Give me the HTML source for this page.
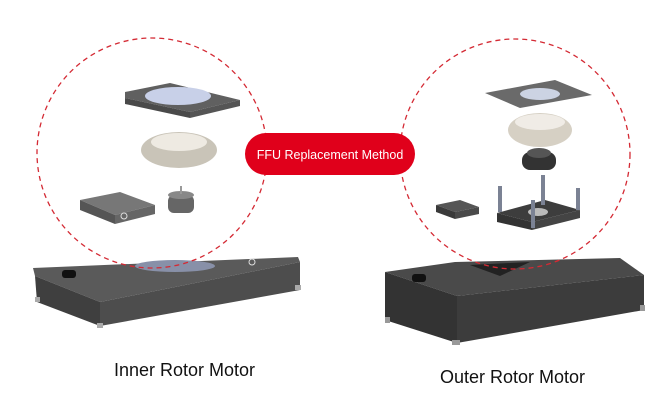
<!DOCTYPE html>
<html><head><meta charset="utf-8"><style>
html,body{margin:0;padding:0;background:#fff;}
body{width:665px;height:400px;overflow:hidden;position:relative;font-family:"Liberation Sans",sans-serif;}
.lbl{position:absolute;font-size:18px;color:#111;white-space:nowrap;}
</style></head><body>
<svg width="665" height="400" style="position:absolute;left:0;top:0">
<!-- left box -->
<polygon points="33,268 298,257 300,262 100,302 35,276" fill="#5a5a5a"/>
<polygon points="35,276 100,302 100,326 37,302" fill="#3f3f3f"/>
<polygon points="100,302 300,262 300,290 100,326" fill="#4d4d4d"/>
<ellipse cx="175" cy="266" rx="40" ry="6" fill="#8890a8"/>
<rect x="62" y="270" width="14" height="8" rx="3" fill="#111"/>
<circle cx="252" cy="262" r="3" fill="none" stroke="#ddd"/>
<rect x="35" y="297" width="5" height="5" fill="#aaa"/><rect x="97" y="323" width="6" height="5" fill="#aaa"/><rect x="295" y="285" width="6" height="5" fill="#aaa"/>
<!-- right box -->
<polygon points="385,272 455,262 620,258 644,275 457,296" fill="#4a4a4a"/>
<polygon points="470,265 530,262 500,276" fill="#222"/>
<polygon points="385,272 457,296 457,343 385,320" fill="#333"/>
<polygon points="457,296 644,275 644,310 457,343" fill="#3c3c3c"/>
<rect x="412" y="274" width="14" height="8" rx="3" fill="#111"/>
<rect x="385" y="317" width="5" height="6" fill="#999"/><rect x="452" y="340" width="8" height="5" fill="#999"/><rect x="640" y="305" width="5" height="6" fill="#999"/>
<!-- left components -->
<polygon points="125,92 170,83 240,100 190,112 125,98" fill="#606060"/>
<polygon points="125,98 190,112 190,118 125,104" fill="#4a4a4a"/>
<polygon points="190,112 240,100 240,106 190,118" fill="#555"/>
<ellipse cx="178" cy="96" rx="33" ry="9" fill="#c8d0e8"/>
<ellipse cx="179" cy="150" rx="38" ry="18" fill="#c9c4b8"/>
<ellipse cx="179" cy="142" rx="28" ry="9" fill="#eeeae2"/>
<polygon points="80,200 120,192 155,205 115,215" fill="#777"/>
<polygon points="80,200 115,215 115,224 80,210" fill="#555"/>
<polygon points="115,215 155,205 155,214 115,224" fill="#666"/>
<circle cx="124" cy="216" r="3" fill="none" stroke="#ddd"/>
<rect x="168" y="195" width="26" height="18" rx="6" fill="#666"/>
<ellipse cx="181" cy="195" rx="13" ry="4" fill="#888"/>
<rect x="180" y="186" width="2" height="8" fill="#999"/>
<!-- right components -->
<polygon points="485,93 555,80 592,95 520,108" fill="#6a6a6a"/>
<ellipse cx="540" cy="94" rx="20" ry="6" fill="#ccd3e3"/>
<ellipse cx="540" cy="130" rx="32" ry="17" fill="#d6d0c4"/>
<ellipse cx="540" cy="122" rx="25" ry="8" fill="#f0ece6"/>
<rect x="522" y="152" width="34" height="18" rx="8" fill="#333"/>
<ellipse cx="539" cy="153" rx="12" ry="5" fill="#555"/>
<polygon points="497,213 545,200 580,210 532,222" fill="#3d3d3d"/>
<polygon points="497,213 532,222 532,230 497,222" fill="#333"/>
<polygon points="532,222 580,210 580,218 532,230" fill="#444"/>
<ellipse cx="538" cy="212" rx="10" ry="4" fill="#bbb"/>
<rect x="498" y="186" width="4" height="26" fill="#7b8294"/><rect x="531" y="200" width="4" height="28" fill="#7b8294"/><rect x="541" y="175" width="4" height="30" fill="#7b8294"/><rect x="576" y="188" width="4" height="22" fill="#7b8294"/>
<polygon points="436,205 460,200 479,207 455,212" fill="#555"/>
<polygon points="436,205 455,212 455,219 436,212" fill="#3a3a3a"/>
<polygon points="455,212 479,207 479,214 455,219" fill="#4a4a4a"/>
<!-- dashed circles -->
<circle cx="152" cy="153" r="115" fill="none" stroke="#d42a34" stroke-width="1.3" stroke-dasharray="5,4"/>
<circle cx="515" cy="154" r="115" fill="none" stroke="#d42a34" stroke-width="1.3" stroke-dasharray="5,4"/>
<!-- pill -->
<rect x="245" y="133" width="170" height="42" rx="21" fill="#e0001b"/>
<text x="330" y="159" text-anchor="middle" font-family="Liberation Sans, sans-serif" font-size="12.5" fill="#fff">FFU Replacement Method</text>
</svg>
<div class="lbl" style="left:114px;top:360px;">Inner Rotor Motor</div>
<div class="lbl" style="left:440px;top:367px;">Outer Rotor Motor</div>
</body></html>
